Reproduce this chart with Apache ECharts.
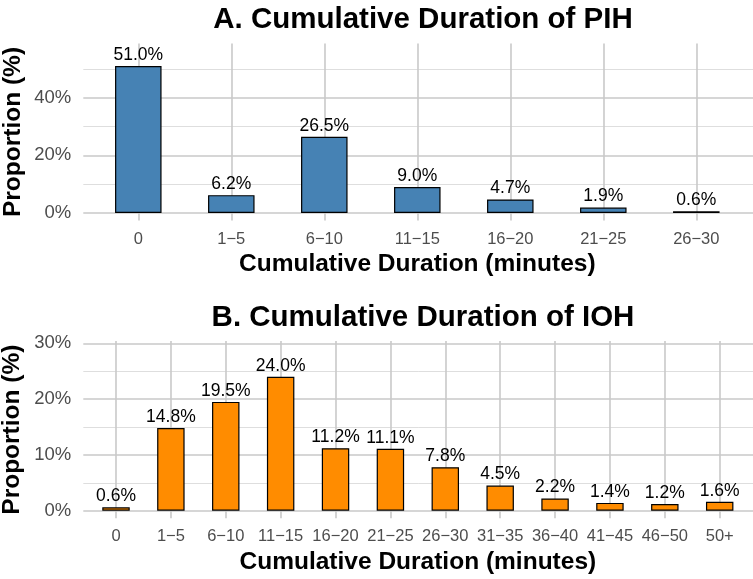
<!DOCTYPE html>
<html>
<head>
<meta charset="utf-8">
<script src="https://cdn.jsdelivr.net/npm/echarts@6/dist/echarts.min.js"></script>
<style>html,body{margin:0;padding:0;background:#fff}#c{width:753px;height:579px}</style>
</head>
<body>
<div id="c"></div>
<script>
const pihCategories = ['0', '1\u22125', '6\u221210', '11\u221215', '16\u221220', '21\u221225', '26\u221230'];
const pihValues = [51.0, 6.2, 26.5, 9.0, 4.7, 1.9, 0.6];
const iohCategories = ['0', '1\u22125', '6\u221210', '11\u221215', '16\u221220', '21\u221225', '26\u221230', '31\u221235', '36\u221240', '41\u221245', '46\u221250', '50+'];
const iohValues = [0.6, 14.8, 19.5, 24.0, 11.2, 11.1, 7.8, 4.5, 2.2, 1.4, 1.2, 1.6];
const pihTicks = [0, 20, 40];
const iohTicks = [0, 10, 20, 30];

const FONT = '"Liberation Sans", Arial, Helvetica, sans-serif';
const majorColor = '#c9c9c9';
const minorColor = '#dedede';

function outerY(gridIndex, max, interval, ticks) {
  return {
    type: 'value', gridIndex: gridIndex, min: 0, max: max, interval: interval,
    axisLine: { show: false }, axisTick: { show: false },
    axisLabel: {
      show: true, margin: 12, color: '#4d4d4d', fontSize: 18.5, fontFamily: FONT,
      showMaxLabel: ticks.indexOf(max) >= 0,
      formatter: function (v) { return ticks.indexOf(v) >= 0 ? v + '%' : ''; }
    },
    splitLine: { show: true, showMaxLine: ticks.indexOf(max) >= 0, lineStyle: { color: majorColor, width: 1.6 } },
    minorTick: { show: false, splitNumber: 2 },
    minorSplitLine: { show: true, lineStyle: { color: minorColor, width: 1 } }
  };
}
function outerX(gridIndex) {
  return { type: 'value', gridIndex: gridIndex, min: 0, max: 1, show: false };
}
function innerX(gridIndex, cats) {
  return {
    type: 'category', gridIndex: gridIndex, data: cats, boundaryGap: false,
    axisLine: { show: false, onZero: false }, axisTick: { show: false },
    axisLabel: { margin: 10, color: '#4d4d4d', fontSize: 16.5, fontFamily: FONT, interval: 0 },
    splitLine: { show: true, interval: 0, lineStyle: { color: majorColor, width: 1.6 } },
    name: 'Cumulative Duration (minutes)', nameLocation: 'middle', nameGap: 31,
    nameTextStyle: { fontSize: 24.5, fontWeight: 'bold', color: '#000', fontFamily: FONT }
  };
}
function innerY(gridIndex, min, max, gap) {
  return {
    type: 'value', gridIndex: gridIndex, min: min, max: max,
    axisLine: { show: false }, axisTick: { show: false }, axisLabel: { show: false },
    splitLine: { show: false },
    name: 'Proportion (%)', nameLocation: 'middle', nameGap: gap,
    nameTextStyle: { fontSize: 24.5, fontWeight: 'bold', color: '#000', fontFamily: FONT }
  };
}
function barSeries(axisIndex, values, color) {
  return {
    type: 'bar', xAxisIndex: axisIndex, yAxisIndex: axisIndex, data: values,
    barWidth: '50%', clip: false,
    itemStyle: { color: color, borderColor: '#000', borderWidth: 1.2 },
    label: {
      show: true, position: 'top', distance: 2, color: '#000', fontSize: 17.5, fontFamily: FONT,
      formatter: function (p) { return p.value.toFixed(1) + '%'; }
    },
    emphasis: { disabled: true }
  };
}

const chart = echarts.init(document.getElementById('c'), null, { renderer: 'canvas' });
chart.setOption({
  animation: false,
  backgroundColor: '#fff',
  title: [
    { text: 'A. Cumulative Duration of PIH', left: 418, top: 0, textAlign: 'center',
      textStyle: { fontSize: 29.5, fontWeight: 'bold', color: '#000', fontFamily: FONT } },
    { text: 'B. Cumulative Duration of IOH', left: 418, top: 297.5, textAlign: 'center',
      textStyle: { fontSize: 29.5, fontWeight: 'bold', color: '#000', fontFamily: FONT } }
  ],
  grid: [
    { left: 83.3, right: 0, top: 40.2, bottom: 366, containLabel: false, outerBoundsMode: 'none' },
    { left: 138.3, right: 56.7, top: 43.5, bottom: 358.5, containLabel: false, outerBoundsMode: 'none' },
    { left: 83.3, right: 0, top: 343.3, bottom: 68.3, containLabel: false, outerBoundsMode: 'none' },
    { left: 116, right: 33.3, top: 341, bottom: 60.7, containLabel: false, outerBoundsMode: 'none' }
  ],
  xAxis: [outerX(0), innerX(1, pihCategories), outerX(2), innerX(3, iohCategories)],
  yAxis: [
    outerY(0, 60, 20, pihTicks),
    innerY(1, -2.6, 58.85, 113),
    outerY(2, 30, 10, iohTicks),
    innerY(3, -1.36, 30.41, 91)
  ],
  series: [
    barSeries(1, pihValues, '#4682B4'),
    barSeries(3, iohValues, '#FF8C00')
  ]
});
</script>
</body>
</html>
